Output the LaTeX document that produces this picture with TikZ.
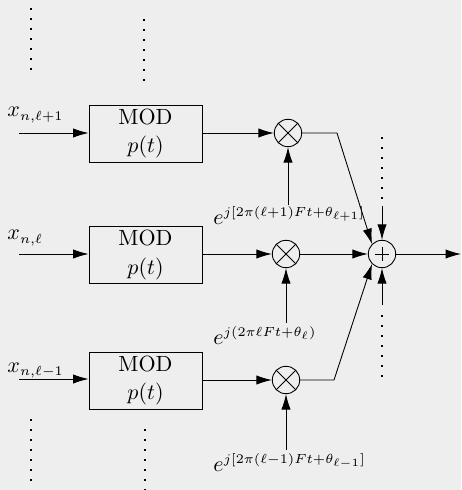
\documentclass[tikz,border=0pt]{standalone}
\DeclareMathSizes{10}{10}{6}{5}
\usetikzlibrary{arrows.meta}
\definecolor{bg}{RGB}{238,238,238}
\begin{document}
\begin{tikzpicture}[x=0.4545pt,y=-0.4545pt,
  arr/.style={-{Latex[length=7pt,width=4.2pt]}},
  modbox/.style={draw,minimum width=113*0.4545pt,minimum height=57*0.4545pt,inner sep=0pt,align=center},
  mult/.style={draw,circle,minimum size=27.4*0.4545pt,inner sep=0pt},
  lab/.style={anchor=base west,inner sep=0pt},
  dotc/.style={fill=black}]
\fill[bg] (0,0) rectangle (461,490);
\useasboundingbox (0,0) rectangle (461,490);
% boxes
\node[modbox] (b1) at (145.5,133.5) {MOD\\[1pt]$p(t)$};
\node[modbox] (b2) at (145.5,255) {MOD\\[1pt]$p(t)$};
\node[modbox] (b3) at (145.5,380.5) {MOD\\[1pt]$p(t)$};
% inputs
\coordinate (i1) at (19,133);
\coordinate (i2) at (19,254);
\coordinate (i3) at (19,379);
\draw[arr] (i1) -- (b1.west |- i1);
\draw[arr] (i2) -- (b2.west |- i2);
\draw[arr] (i3) -- (b3.west |- i3);
\node[lab] (x1) at (7,117) {$x_{n,\ell+1}$};
\node[lab] (x2) at (7,240) {$x_{n,\ell}$};
\node[lab] (x3) at (7,372) {$x_{n,\ell-1}$};
% multipliers
\node[mult] (m1) at (288,133) {};
\node[mult] (m2) at (286,254) {};
\node[mult] (m3) at (286,380) {};
\foreach \m in {m1,m2,m3}{
  \draw (\m.north west) -- (\m.south east);
  \draw (\m.north east) -- (\m.south west);
}
\draw[arr] (b1.east |- m1) -- (m1.west);
\draw[arr] (b2.east |- m2) -- (m2.west);
\draw[arr] (b3.east |- m3) -- (m3.west);
% exponent labels
\node[lab] (e1) at (213,224) {$e^{j[2\pi(\ell+1)Ft+\theta_{\ell+1}]}$};
\node[lab] (e2) at (213,344) {$e^{j(2\pi\ell Ft+\theta_{\ell})}$};
\node[lab] (e3) at (213,471) {$e^{j[2\pi(\ell-1)Ft+\theta_{\ell-1}]}$};
\coordinate (v1) at (288,205);
\coordinate (v2) at (286,323);
\coordinate (v3) at (286,450);
\draw[arr] (v1) -- (m1.south);
\draw[arr] (v2) -- (m2.south);
\draw[arr] (v3) -- (m3.south);
% sum
\node[mult] (s) at (382,254) {};
\draw (s.center) ++(-6.7,0) -- ++(13.4,0);
\draw (s.center) ++(0,-6.7) -- ++(0,13.4);
\coordinate (k1) at (337,133);
\coordinate (k3) at (334,380);
\draw[arr] (m1.east) -- (k1) -- (s.north west);
\draw[arr] (m3.east) -- (k3) -- (s.south west);
\draw[arr] (m2.east) -- (s.west);
\coordinate (st) at (382,206);
\coordinate (sb) at (382,305);
\draw[arr] (st) -- (s.north);
\draw[arr] (sb) -- (s.south);
\coordinate (out) at (461,254);
\draw[arr] (s.east) -- (out);
% dots
\foreach \i in {0,...,6}{
  \fill[dotc] (30,8+10*\i) rectangle ++(2,2);
  \fill[dotc] (143,19+10*\i) rectangle ++(2,2);
  \fill[dotc] (381,137+10*\i) rectangle ++(2,2);
  \fill[dotc] (381,315+10*\i) rectangle ++(2,2);
  \fill[dotc] (30,419+10*\i) rectangle ++(2,2);
  \fill[dotc] (144,428.5+10*\i) rectangle ++(2,2);
}
\end{tikzpicture}
\end{document}
